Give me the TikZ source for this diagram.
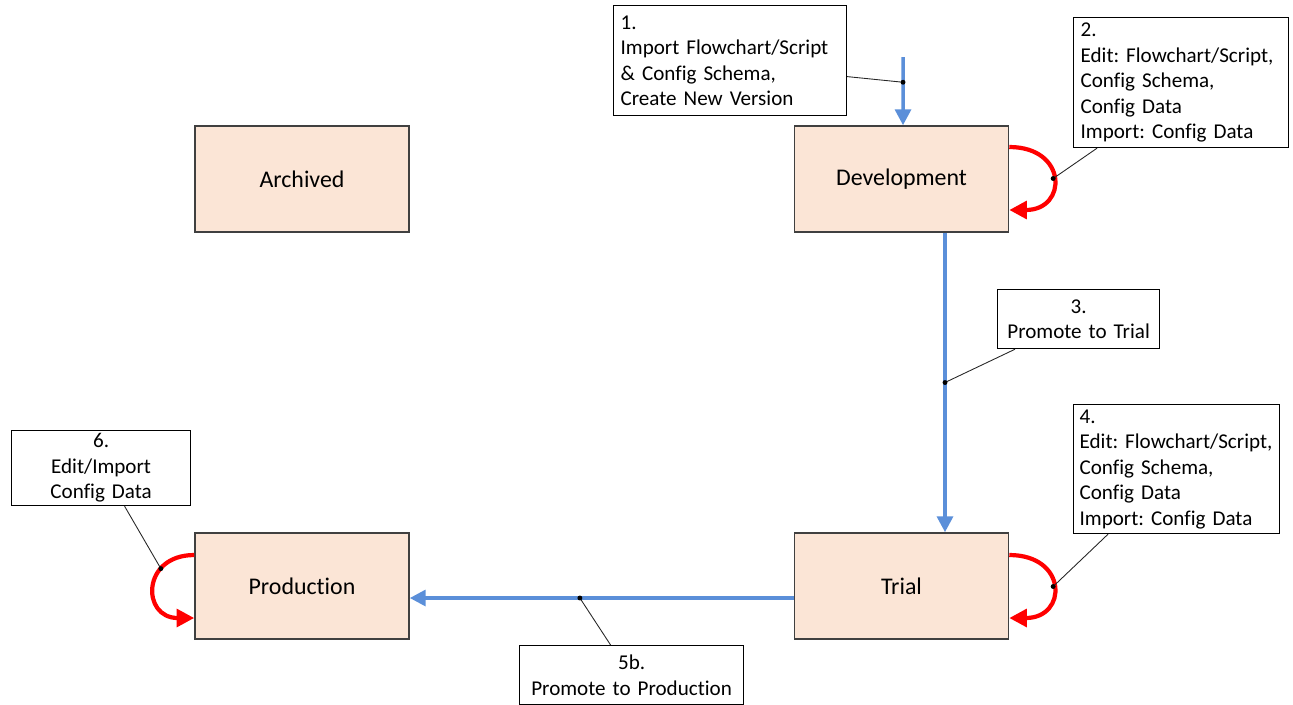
\documentclass[tikz,border=0pt]{standalone}
\usepackage{fontspec}
\setmainfont[Ligatures=NoCommon]{Carlito}
\frenchspacing
\usetikzlibrary{arrows.meta}
\definecolor{statefill}{HTML}{FBE5D6}
\definecolor{stateline}{HTML}{404040}
\definecolor{flowblue}{HTML}{5B8FD9}
\tikzset{
state/.style={draw=stateline,line width=0.9pt,fill=statefill,minimum width=4.28cm,minimum height=2.12cm,font=\fontsize{13.6}{16}\selectfont},
note/.style={draw=black,line width=0.7pt,fill=white,inner xsep=0.14cm,inner ysep=0pt,font=\fontsize{12}{14.5}\selectfont},
flow/.style={flowblue,line width=2pt,-{Triangle[length=9pt,width=9pt]}},
selfloop/.style={red,line width=2.4pt,-{Triangle[length=10pt,width=10pt]}},
lead/.style={black!85,line width=0.5pt},
}
\begin{document}
\begin{tikzpicture}[x=0.02cm,y=-0.02cm]
\useasboundingbox (0,0) rectangle (1293,704);

\node[state] (archived) at (302,179) {Archived};
\node[state] (dev) at (901.5,179) {Development};
\node[state] (prod) at (302,586) {Production};
\node[state] (trial) at (901.5,586) {Trial};

\node[note,anchor=north west,text width=4.38cm,minimum height=2.2cm,align=left] (c1) at (613,5) {1.\\Import Flowchart/Script\\\& Config Schema,\\Create New Version};
\node[note,anchor=north west,text width=4.02cm,minimum height=2.6cm,align=left] (c2) at (1073,17) {2.\\Edit: Flowchart/Script,\\Config Schema,\\Config Data\\Import: Config Data};
\node[note,anchor=north west,text width=2.96cm,minimum height=1.18cm,align=center] (c3) at (997,289) {3.\\Promote to Trial};
\node[note,anchor=north west,inner xsep=0.12cm,text width=3.88cm,minimum height=2.58cm,align=left] (c4) at (1073,404) {4.\\Edit:~Flowchart/Script,\\Config Schema,\\Config Data\\Import: Config Data};
\node[note,anchor=north west,text width=4.2cm,minimum height=1.18cm,align=center] (c5) at (519,645) {5b.\\Promote to Production};
\node[note,anchor=north west,text width=3.3cm,minimum height=1.5cm,align=center] (c6) at (11,430) {6.\\Edit/Import\\Config Data};

\coordinate (in) at (903,57);
\draw[flow] (in) -- coordinate[pos=0.37] (d1) ([xshift=0.03cm]dev.north);
\draw[flow] ([xshift=0.87cm]dev.south) -- coordinate[pos=0.5] (d3) ([xshift=0.87cm]trial.north);
\draw[flow] ([yshift=-0.24cm]trial.west) -- coordinate[pos=0.557] (d5) ([yshift=-0.24cm]prod.east);

\draw[selfloop] ([yshift=0.64cm]dev.east) .. controls +(1.17cm,0) and +(1.17cm,0) .. coordinate[pos=0.5] (d2) ([yshift=-0.62cm]dev.east);
\draw[selfloop] ([yshift=0.62cm]trial.east) .. controls +(1.17cm,0) and +(1.17cm,0) .. coordinate[pos=0.5] (d4) ([yshift=-0.64cm]trial.east);
\draw[selfloop] ([yshift=0.62cm]prod.west) .. controls +(-1.06cm,0) and +(-1.06cm,0) .. coordinate[pos=0.3] (d6) ([yshift=-0.64cm]prod.west);

\draw[lead] ([yshift=-0.32cm]c1.east) -- (d1);
\draw[lead] ([xshift=0.48cm]c2.south west) -- (d2);
\draw[lead] ([xshift=0.36cm]c3.south west) -- (d3);
\draw[lead] ([xshift=0.7cm]c4.south west) -- (d4);
\draw[lead] ([xshift=-0.42cm]c5.north) -- (d5);
\draw[lead] ([xshift=0.47cm]c6.south) -- (d6);
\foreach \d in {d1,d2,d3,d4,d5,d6}
  \fill (\d) circle (1.4pt);

\end{tikzpicture}
\end{document}
